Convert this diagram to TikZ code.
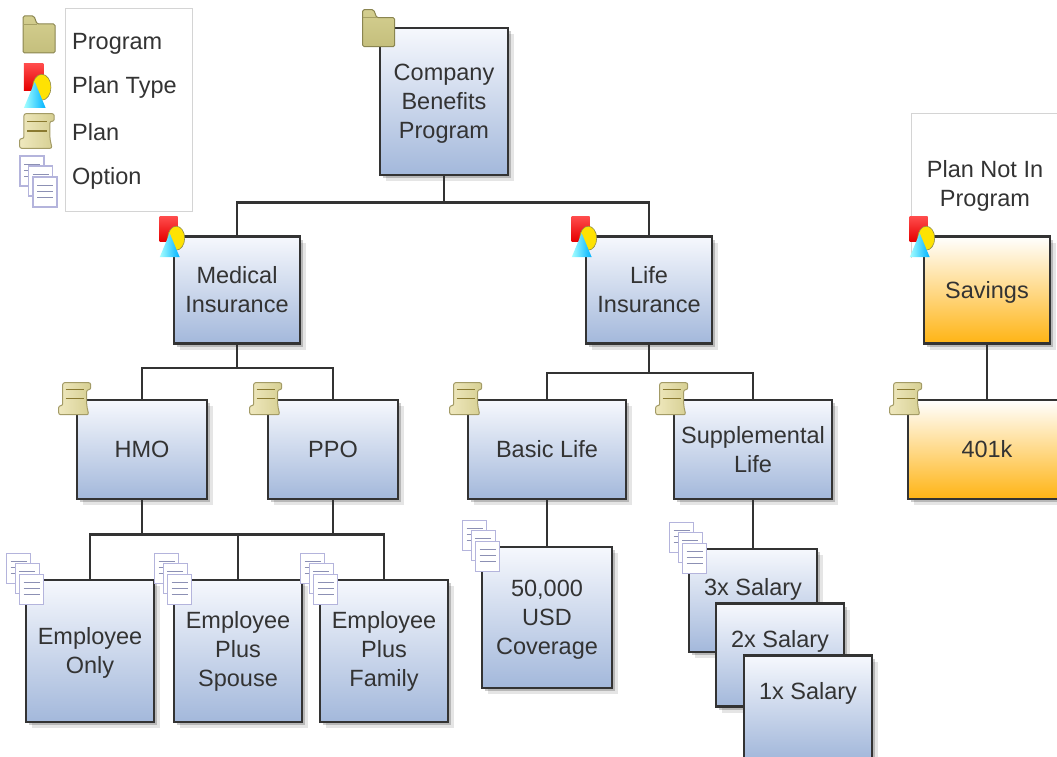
\documentclass[tikz,border=0pt]{standalone}
\usepackage{fontspec}
\setmainfont{Liberation Sans}
\usetikzlibrary{positioning,shadows}

\definecolor{boxline}{HTML}{333333}
\definecolor{boxtext}{HTML}{333333}
\definecolor{bluetop}{HTML}{F6F8FD}
\definecolor{bluebottom}{HTML}{A3B8DB}
\definecolor{orangebottom}{HTML}{FFB414}
\definecolor{framegray}{HTML}{D4D4D4}
\definecolor{foldfill}{HTML}{CFC983}
\definecolor{foldline}{HTML}{8A8550}
\definecolor{scrollfill}{HTML}{EFE8BE}
\definecolor{scrolldark}{HTML}{D6CF92}
\definecolor{scrollline}{HTML}{A39B66}
\definecolor{scrollmark}{HTML}{8A7A30}
\definecolor{sheetline}{HTML}{B4B4DC}
\definecolor{sheetmark}{HTML}{8C90B4}
\newcommand{\lowtext}{\rule{0pt}{21pt}}

\tikzset{
  boxnode/.style={rectangle,draw=boxline,line width=2.6pt,inner sep=0pt,align=center,text=boxtext,
    font=\fontsize{23.5}{29}\selectfont,minimum width=128pt,
    top color=bluetop,bottom color=bluebottom,
    drop shadow={shadow xshift=3pt,shadow yshift=-3pt,opacity=.2,fill=black},
    drop shadow={shadow xshift=6pt,shadow yshift=-6pt,opacity=.1,fill=black}},
  orangenode/.style={boxnode,top color=white,bottom color=orangebottom},
  textnode/.style={inner sep=0pt,align=center,text=boxtext,font=\fontsize{23.5}{29}\selectfont},
  framenode/.style={rectangle,draw=framegray,line width=1pt,fill=white,inner sep=0pt},
  frameline/.style={draw=framegray,line width=1pt},
  bus/.style={draw=boxline,line width=2.6pt,to path={(\tikztostart.south) -- ++(0,-#1) -| (\tikztotarget.north)}},
  pics/folder/.style={code={
    \draw[draw=foldline,top color=foldfill!90!white,bottom color=foldfill!95!black,line width=1pt,rounded corners=1.5pt]
      (-16pt,-20pt) -- (-16pt,17pt) -- (-5pt,17pt) -- (-2pt,9pt) -- (16pt,9pt) -- (16pt,-20pt) -- cycle;
    \draw[draw=foldline!60!foldfill,line width=.8pt] (-16pt,9pt) -- (-2pt,9pt);
  }},
  pics/plantype/.style={code={
    \shade[top color=red!70!white,bottom color=red!90!black] (-13pt,19pt) rectangle (5pt,-6pt);
    \draw[draw=yellow!50!black,fill=yellow!85!orange,line width=.6pt] (3.5pt,-3pt) ellipse (8.5pt and 12pt);
    \shade[left color=cyan!35!white,right color=cyan!70!blue] (-3pt,2pt) -- (7pt,-22pt) -- (-13pt,-22pt) -- cycle;
  }},
  pics/scroll/.style={code={
    \draw[draw=scrollline,left color=scrollfill,right color=scrolldark,line width=1pt,rounded corners=2pt]
      (-13pt,16pt) -- (15pt,16pt) -- (15pt,9pt) -- (11pt,9pt) -- (11pt,-7pt) -- (13pt,-16pt) -- (-17pt,-16pt) -- (-17pt,-7pt) -- (-13pt,-7pt) -- cycle;
    \draw[draw=scrollmark,line width=1.5pt] (-10pt,9pt) -- (8pt,9pt) (-10pt,0pt) -- (8pt,0pt);
  }},
  pics/pages/.style={code={
    \foreach \dx/\dy in {-6/10,2.5/0,7/-11}{
      \draw[draw=sheetline,fill=white,line width=1.2pt] (\dx pt-12pt,\dy pt+15pt) rectangle (\dx pt+12pt,\dy pt-15pt);
      \draw[draw=sheetmark,line width=.8pt] (\dx pt-8pt,\dy pt+7pt) -- (\dx pt+8pt,\dy pt+7pt)
        (\dx pt-8pt,\dy pt+1pt) -- (\dx pt+8pt,\dy pt+1pt) (\dx pt-8pt,\dy pt-5pt) -- (\dx pt+8pt,\dy pt-5pt);
    }
  }},
}

\begin{document}
\begin{tikzpicture}[on grid]
  \useasboundingbox (0,0) rectangle (1057pt,-757pt);
  % frames
  \node[framenode,minimum width=127pt,minimum height=202pt] (legend) at (128.5pt,-110pt) {};
  \coordinate (framebl) at (911pt,-258pt);
  \coordinate (frametr) at (1060pt,-114pt);
  \draw[frameline] (framebl) |- (frametr);
  \node[textnode] (notin) at (985pt,-186pt) {Plan Not In\\Program};
  % legend
  \node[textnode,anchor=base west] (lprogram) at (72pt,-50pt) {Program};
  \node[textnode,anchor=base west] (lplantype) at (72pt,-94pt) {Plan Type};
  \node[textnode,anchor=base west] (lplan) at (72pt,-140pt) {Plan};
  \node[textnode,anchor=base west] (loption) at (72pt,-184pt) {Option};
  \coordinate (iprogram) at (39pt,-33pt);
  \coordinate (iplantype) at (38pt,-84pt);
  \coordinate (iplan) at (38pt,-131pt);
  \coordinate (ioption) at (38pt,-181pt);
  % tree
  \node[boxnode,minimum height=147pt] (company) at (444pt,-101.5pt) {\lowtext Company\\Benefits\\Program};
  \node[boxnode,minimum width=126pt,minimum height=107pt] (medical) [below left=188.5pt and 207pt of company] {Medical\\Insurance};
  \node[boxnode,minimum width=126pt,minimum height=107pt] (life) [below right=188.5pt and 205pt of company] {Life\\Insurance};
  \node[orangenode,minimum width=126pt,minimum height=107pt] (savings) [right=338pt of life] {\lowtext Savings};
  \node[boxnode,minimum width=130pt,minimum height=99pt] (hmo) at (142pt,-449.5pt) {HMO};
  \node[boxnode,minimum width=130pt,minimum height=99pt] (ppo) [right=191pt of hmo] {PPO};
  \node[boxnode,minimum width=158pt,minimum height=99pt] (basic) [right=214pt of ppo] {Basic Life};
  \node[boxnode,minimum width=158pt,minimum height=99pt] (supp) [right=206pt of basic] {Supplemental\\Life};
  \node[orangenode,minimum width=158pt,minimum height=99pt] (k401) [right=234pt of supp] {401k};
  \node[boxnode,minimum height=142pt] (only) at (90pt,-651pt) {\lowtext Employee\\Only};
  \node[boxnode,minimum height=142pt] (spouse) [right=148pt of only] {Employee\\Plus\\Spouse};
  \node[boxnode,minimum height=142pt] (family) [right=146pt of spouse] {Employee\\Plus\\Family};
  \node[boxnode,minimum width=130pt,minimum height=141pt] (usd) at (547pt,-617.5pt) {\lowtext 50,000\\USD\\Coverage};
  \node[boxnode,minimum height=103pt] (x3) at (753pt,-600.5pt) {3x Salary\\[-1pt]~};
  \node[boxnode,minimum height=103pt] (x2) [below right=54.5pt and 27pt of x3] {2x Salary\\[3pt]~};
  \node[boxnode,minimum height=103pt] (x1) [below right=52pt and 28pt of x2] {1x Salary\\[3pt]~};
  % connectors
  \path
  (company)
  edge [bus=26pt] (medical)
  edge [bus=26pt] (life)
  (medical)
  edge [bus=23pt] (hmo)
  edge [bus=23pt] (ppo)
  (life)
  edge [bus=28pt] (basic)
  edge [bus=28pt] (supp)
  (savings)
  edge [bus=28pt] (k401)
  (hmo)
  edge [bus=34pt] (only)
  edge [bus=34pt] (spouse)
  (ppo)
  edge [bus=34pt] (spouse)
  edge [bus=34pt] (family)
  (basic)
  edge [bus=24pt] (usd)
  (supp)
  edge [bus=24pt] (x3)
  ;
  % icons
  \pic at (iprogram) {folder};
  \pic[scale=1.08] at (iplantype) {plantype};
  \pic[scale=1.08] at (iplan) {scroll};
  \pic at (ioption) {pages};
  \pic at (company.north west) {folder};
  \pic at (medical.north west) {plantype};
  \pic at (life.north west) {plantype};
  \pic at (savings.north west) {plantype};
  \pic at (hmo.north west) {scroll};
  \pic at (ppo.north west) {scroll};
  \pic at (basic.north west) {scroll};
  \pic at (supp.north west) {scroll};
  \pic at (k401.north west) {scroll};
  \pic at (only.north west) {pages};
  \pic at (spouse.north west) {pages};
  \pic at (family.north west) {pages};
  \pic at (usd.north west) {pages};
  \pic at (x3.north west) {pages};
\end{tikzpicture}
\end{document}
